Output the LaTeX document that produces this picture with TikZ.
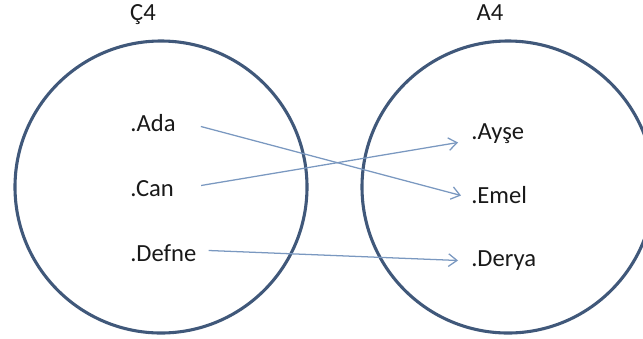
\documentclass[tikz,border=0pt]{standalone}
\usepackage{fontspec}
\setmainfont{Carlito}
\usetikzlibrary{arrows.meta, calc}
\definecolor{ringblue}{RGB}{64, 88, 122}
\definecolor{linkblue}{RGB}{122, 152, 192}
\tikzset{
  ring/.style  = {draw=ringblue, line width=2.2pt},
  elem/.style  = {anchor=base west, inner sep=0pt, text height=0.75em, text depth=0.25em,
                  font=\fontsize{17.5}{20}\selectfont, text=black!90},
  title/.style = {anchor=base, inner sep=0pt, font=\fontsize{17.5}{20}\selectfont, text=black!90},
  link/.style  = {-{Straight Barb[length=6pt, width=9pt]}, linkblue, line width=0.9pt},
}

\begin{document}
\begin{tikzpicture}[x=0.025cm, y=-0.025cm]
  % sayfa sınırı
  \useasboundingbox (0,0) rectangle (643,338);
  \clip (0,0) rectangle (643,338);

  % kümeler
  \draw[ring] (161,187) circle[radius=146];
  \draw[ring] (508,187) circle[radius=146];
  \node[title] (c4) at (143,20) {Ç4};
  \node[title] (a4) at (490,20) {A4};

  % Ç4 elemanları
  \node[elem] (ada)   at (130,131) {.Ada};
  \node[elem] (can)   at (130,196) {.Can};
  \node[elem] (defne) at (130,261) {.Defne};

  % A4 elemanları
  \node[elem] (ayse)  at (471,139) {.Ayşe};
  \node[elem] (emel)  at (471,203) {.Emel};
  \node[elem] (derya) at (471,266) {.Derya};

  % eşlemeler
  \draw[link] ($(ada.east)+(25,-1)$)   -- ($(emel.west)+(-10,-4)$);
  \draw[link] ($(can.east)+(27,-7)$)   -- ($(ayse.west)+(-13,7)$);
  \draw[link] ($(defne.east)+(12,-7)$) -- ($(derya.west)+(-13,-2)$);
\end{tikzpicture}
\end{document}
